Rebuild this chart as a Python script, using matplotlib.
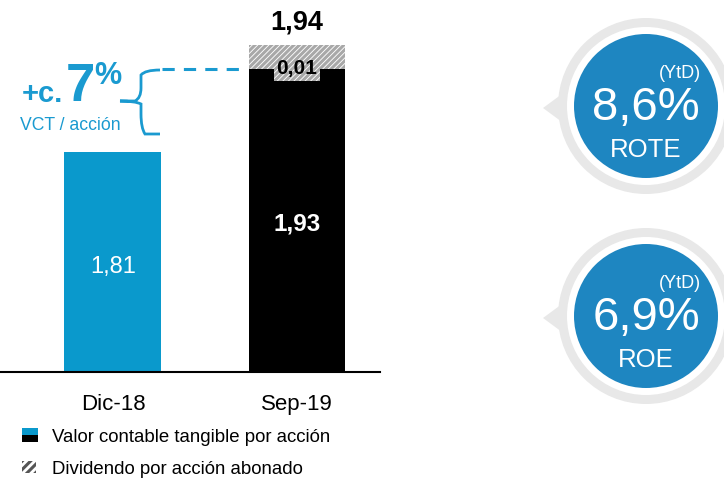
import matplotlib.pyplot as plt
from matplotlib.patches import Circle, Polygon, Rectangle
from matplotlib.path import Path
from matplotlib.patches import PathPatch

plt.rcParams['font.family'] = ['Liberation Sans', 'DejaVu Sans']
plt.rcParams['hatch.linewidth'] = 2.2

# datos
periodos = ['Dic-18', 'Sep-19']
vct = [1.81, 1.93]
dividendo = [0.0, 0.01]
total_sep = 1.94
etiquetas_vct = ['1,81', '1,93']
ratios = [('8,6', 'ROTE'), ('6,9', 'ROE')]

azul = '#0A99CC'
azul_txt = '#1A9AD0'
azul_circ = '#1E86C1'
gris = '#E8E8E8'

fig = plt.figure(figsize=(7.24, 4.8), dpi=100)

# eje de barras (fondo truncado como en la diapositiva)
ax = fig.add_axes([0, 1 - 372 / 480, 380 / 724, 372 / 480])
ax.set_xlim(-0.614, 1.451)
ax.set_ylim(1.49, 2.03)
ax.bar(0, vct[0], width=0.527, color=azul)
ax.bar(1, vct[1], width=0.527, color='black')
# el dividendo se dibuja con un alto mínimo visible
div_vis = max(dividendo[1], 0.035)
ax.bar(1, div_vis, bottom=vct[1], width=0.527, color='white',
       hatch='//////', edgecolor='#A8A8A8', linewidth=0)

ax.text(0, vct[0] - 0.168, etiquetas_vct[0], color='white', fontsize=17,
        ha='center', va='center')
ax.text(1, vct[1] - 0.225, etiquetas_vct[1], color='white', fontsize=17.5,
        fontweight='bold', ha='center', va='center')
ax.text(1, vct[1] + 0.0, '0,01', color='black', fontsize=15,
        fontweight='bold', ha='center', va='center',
        bbox=dict(boxstyle='square,pad=0.12', facecolor='white',
                  hatch='//////', edgecolor='#A8A8A8', linewidth=0))
ax.text(1, 1.998, '1,94', color='black', fontsize=19.5,
        fontweight='bold', ha='center', va='center')

for s in ['top', 'right', 'left']:
    ax.spines[s].set_visible(False)
ax.spines['bottom'].set_linewidth(1.5)
ax.set_yticks([])
ax.set_xticks([0, 1])
ax.set_xticklabels(periodos, fontsize=16)
ax.tick_params(axis='x', length=0, pad=16)

# capa superpuesta en píxeles
ov = fig.add_axes([0, 0, 1, 1])
ov.set_xlim(0, 724)
ov.set_ylim(480, 0)
ov.axis('off')
ov.patch.set_alpha(0)

# anotación +c. 7%
ov.text(22, 102, '+c.', color=azul_txt, fontsize=21, fontweight='bold',
        ha='left', va='baseline')
ov.text(66, 101, '7', color=azul_txt, fontsize=38, fontweight='bold',
        ha='left', va='baseline')
ov.text(94, 84, '%', color=azul_txt, fontsize=22, fontweight='bold',
        ha='left', va='baseline')
ov.text(20, 130, 'VCT / acción', color=azul_txt, fontsize=12.7,
        ha='left', va='baseline')

verts = [(160, 70), (145, 70), (141, 75), (141, 88), (141, 98), (135, 101),
         (120, 101), (135, 101), (141, 104), (141, 114), (141, 128),
         (145, 134), (160, 134)]
codes = [Path.MOVETO, Path.CURVE3, Path.CURVE3, Path.LINETO, Path.CURVE3,
         Path.CURVE3, Path.LINETO, Path.CURVE3, Path.CURVE3, Path.LINETO,
         Path.CURVE3, Path.CURVE3, Path.LINETO]
ov.add_patch(PathPatch(Path(verts, codes), fill=False, edgecolor=azul_txt,
                       linewidth=2))
ov.plot([162, 246], [69, 69], color=azul_txt, linewidth=2.2,
        linestyle=(0, (4, 3)))

# círculos ROTE / ROE
for (valor, nombre), cy in zip(ratios, [106, 316]):
    cx = 646
    ov.add_patch(Polygon([(543, cy + 2), (562, cy - 12), (562, cy + 16)],
                         closed=True, color=gris, linewidth=0))
    ov.add_patch(Circle((cx, cy), 88, color=gris, linewidth=0))
    ov.add_patch(Circle((cx, cy), 79, color='white', linewidth=0))
    ov.add_patch(Circle((cx, cy), 72, color=azul_circ, linewidth=0))
    ov.text(cx + 34, cy - 33, '(YtD)', color='white', fontsize=13,
            ha='center', va='center')
    ov.text(cx, cy + 2, valor + '%', color='white', fontsize=34,
            ha='center', va='center')
    ov.text(cx, cy + 44, nombre, color='white', fontsize=18.5,
            ha='center', va='center')

# leyenda
ov.add_patch(Rectangle((22, 428), 16, 7, color=azul, linewidth=0))
ov.add_patch(Rectangle((22, 435), 16, 7, color='black', linewidth=0))
ov.text(52, 437, 'Valor contable tangible por acción', fontsize=13.4,
        ha='left', va='center')
ov.add_patch(Rectangle((22, 461), 14, 12, facecolor='white', hatch='////',
                       edgecolor='#555555', linewidth=0))
ov.text(52, 470, 'Dividendo por acción abonado', fontsize=13.4,
        ha='left', va='center')

fig.savefig('out.png', dpi=100)
